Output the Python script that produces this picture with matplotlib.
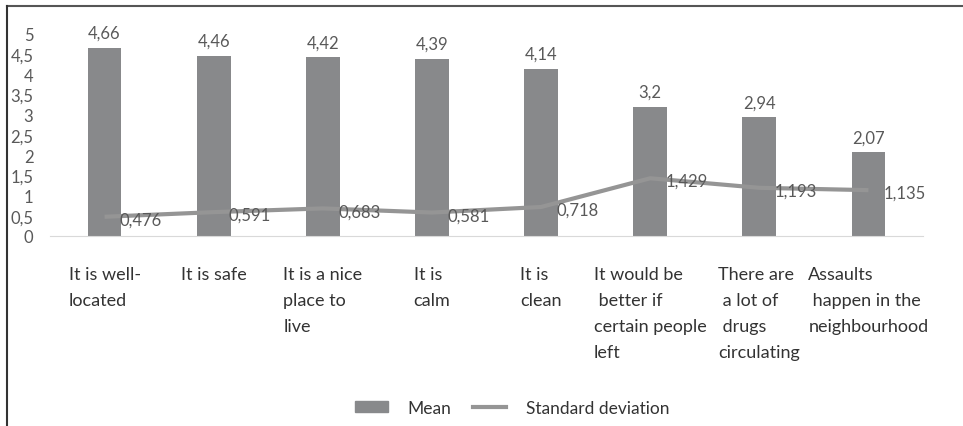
import matplotlib.pyplot as plt
import numpy as np
from matplotlib.patches import Patch
from matplotlib.lines import Line2D
from matplotlib.transforms import Bbox, TransformedBbox

BAR_COLOR = '#88898b'
LINE_COLOR = '#959595'
TEXT_COLOR = '#595959'
LABEL_COLOR = '#333333'

categories = ['It is well-\nlocated',
              'It is safe',
              'It is a nice\nplace to\nlive',
              'It is\ncalm',
              'It is\nclean',
              'It would be\n better if\ncertain people\nleft',
              'There are\n a lot of\n drugs\ncirculating',
              'Assaults\n happen in the\nneighbourhood']
mean = [4.66, 4.46, 4.42, 4.39, 4.14, 3.2, 2.94, 2.07]
std_dev = [0.476, 0.591, 0.683, 0.581, 0.718, 1.429, 1.193, 1.135]
yticks = np.arange(0, 5.01, 0.5)


def comma(v):
    s = ('%g' % v)
    return s.replace('.', ',')


plt.rcParams['font.family'] = ['Lato', 'DejaVu Sans']

fig = plt.figure(figsize=(9.63, 4.27), dpi=100)
ax = fig.add_axes((50 / 963, 1 - 237 / 427, 873 / 963, 202 / 427))

x = np.arange(len(categories))
ax.bar(x, mean, 0.31, color=BAR_COLOR, zorder=2)
ax.plot(x, std_dev, color=LINE_COLOR, lw=3, solid_capstyle='butt', zorder=3)

for xi, v in zip(x, mean):
    ax.annotate(comma(v), (xi, v), xytext=(0, 5), textcoords='offset points',
                ha='center', va='bottom', fontsize=12, color=TEXT_COLOR,
                annotation_clip=False)
for xi, v in zip(x, std_dev):
    ax.annotate(comma(v), (xi, v), xytext=(11, -2), textcoords='offset points',
                ha='left', va='center', fontsize=12, color=TEXT_COLOR,
                zorder=4, annotation_clip=False)

ax.set_xlim(-0.5, 7.5)
ax.set_ylim(0, 5)
ax.set_yticks(yticks)
ax.set_yticklabels([comma(v) for v in yticks])
ax.tick_params(axis='y', length=0, pad=12, labelsize=12, labelcolor=TEXT_COLOR)
ax.set_xticks([])
for s in ['top', 'right', 'left']:
    ax.spines[s].set_visible(False)
ax.spines['bottom'].set_color('#d9d9d9')

# category labels under the axis, cut off at the bottom of the plot area
clip = TransformedBbox(Bbox([[0, 1 - 362 / 427], [1, 1]]), fig.transFigure)
for xi, lab in zip(x, categories):
    t = ax.annotate(lab, (xi, 0), xytext=(0, -21.5), textcoords='offset points',
                    ha='center', va='top', multialignment='left',
                    fontsize=13, color=LABEL_COLOR, linespacing=1.76,
                    annotation_clip=False)
    t.set_clip_box(clip)
    t.set_clip_on(True)

handles = [Patch(color=BAR_COLOR), Line2D([], [], color=LINE_COLOR, lw=3)]
fig.legend(handles, ['Mean', 'Standard deviation'], loc='center',
           bbox_to_anchor=(512 / 963, 1 - 409 / 427), ncol=2, frameon=False,
           fontsize=12.5, labelcolor=LABEL_COLOR, handlelength=1.9,
           handleheight=0.6, handletextpad=1.1, columnspacing=1.3)

# outer frame
fig.add_artist(Line2D([7 / 963, 1], [1 - 7 / 427] * 2, color='#555555', lw=1.5,
                      transform=fig.transFigure))
fig.add_artist(Line2D([7 / 963] * 2, [0, 1 - 7 / 427], color='#333333', lw=1.5,
                      transform=fig.transFigure))

fig.savefig('out.png', dpi=100, facecolor='white')
